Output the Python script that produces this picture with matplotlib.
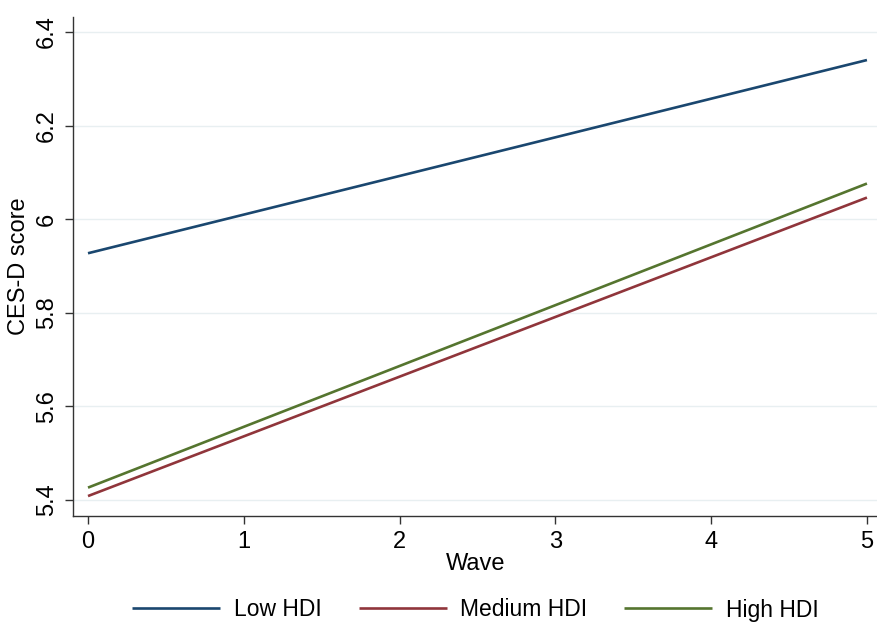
import matplotlib
matplotlib.use("Agg")
import matplotlib.pyplot as plt

waves = [0, 5]
low_hdi = [5.927, 6.340]
medium_hdi = [5.408, 6.046]
high_hdi = [5.426, 6.076]
labels = ["Low HDI", "Medium HDI", "High HDI"]
colors = ["#1a476f", "#90353b", "#55752f"]
yticks = [5.4, 5.6, 5.8, 6.0, 6.2, 6.4]
ytick_labels = ["5.4", "5.6", "5.8", "6", "6.2", "6.4"]
xticks = [0, 1, 2, 3, 4, 5]

plt.rcParams['font.family'] = ['Liberation Sans', 'DejaVu Sans']

fig = plt.figure(figsize=(8.78, 6.25), dpi=100)
left = 73/878
ax = fig.add_axes([left, 1-515.7/625, 1-left, (515.7-17)/625])

for vals, lab, c in zip([low_hdi, medium_hdi, high_hdi], labels, colors):
    ax.plot(waves, vals, color=c, lw=1.9, label=lab, solid_capstyle='butt')

ax.set_xlim(-0.0963, 5.071)
ax.set_ylim(5.366, 6.432)
ax.set_yticks(yticks)
ax.set_yticklabels(ytick_labels, rotation=90, va='center')
ax.set_xticks(xticks)
ax.tick_params(axis='both', labelsize=17, length=6, width=1, color='#333333', direction='out', pad=5)
ax.grid(axis='y', color='#e8eff1', lw=1)
ax.set_axisbelow(True)
for s in ['top', 'right']:
    ax.spines[s].set_visible(False)
for s in ['left', 'bottom']:
    ax.spines[s].set_color('#333333')
    ax.spines[s].set_linewidth(1)

ax.set_xlabel("Wave", fontsize=17, labelpad=0)
ax.set_ylabel("CES-D score", fontsize=17, labelpad=4)

fig.legend(loc='center', bbox_to_anchor=((left + 1) / 2, 1-610/625), ncol=3, frameon=False,
           fontsize=16.5, handlelength=3.84, columnspacing=1.6, handletextpad=0.6)

fig.savefig("out.png", dpi=100)
